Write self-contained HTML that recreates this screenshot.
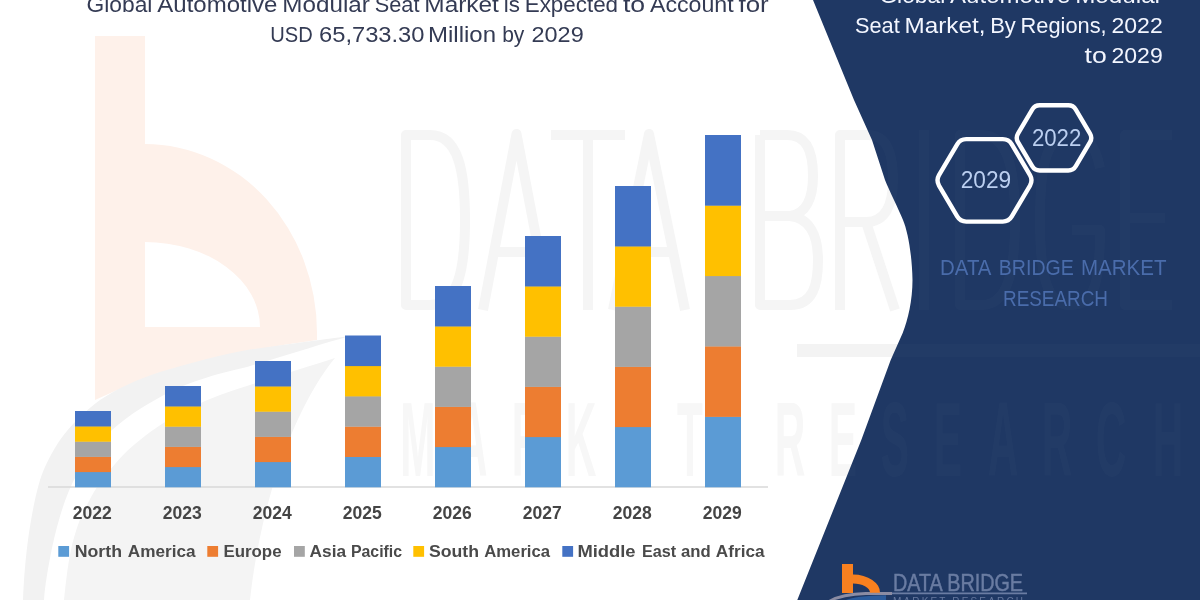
<!DOCTYPE html>
<html><head><meta charset="utf-8">
<style>
html,body{margin:0;padding:0;background:#fff;}
body{width:1200px;height:600px;overflow:hidden;position:relative;font-family:"Liberation Sans",sans-serif;}
svg{position:absolute;left:0;top:0;display:block}
text{font-family:"Liberation Sans",sans-serif;}
</style></head><body>
<svg width="1200" height="600" viewBox="0 0 1200 600">
<defs>
<clipPath id="pc"><path d="M813,0 L854,100 L872,140 L885,180 C889,190 899,210 903,220 C908,232 912,255 912.5,280 C912.5,300 908,320 902.7,333 L890.7,360 L861.3,440 L797.3,600 L1200,600 L1200,0 Z"/></clipPath>
<linearGradient id="barfade" x1="0" x2="1" y1="0" y2="0"><stop offset="0" stop-color="#000" stop-opacity="0"/><stop offset="0.12" stop-color="#000" stop-opacity="1"/></linearGradient>
<g id="wmtext">
<g fill="none" stroke-width="10" stroke-linejoin="round">
<path d="M406,135 L406,305 L430,305 C458,305 465,270 465,220 C465,170 458,135 430,135 Z"/>
<path d="M483,310 L516.5,134 L550,310 M494,252 L539,252"/>
<path d="M551,135 L625,135 M588,135 L588,310"/>
<path d="M613,310 L649,134 L685,310 M625,252 L673,252"/>
<path d="M760,135 L760,305 L790,305 C813,305 818,285 818,260 C818,235 809,218 790,216 L760,216 M790,216 C806,214 813,198 813,176 C813,150 806,135 787,135 L760,135"/>
<path d="M840,310 L840,135 L868,135 C888,135 893,155 893,180 C893,205 885,222 866,222 L840,222 M866,222 L895,310"/>
<path d="M924,130 L924,310"/>
<path d="M960,135 L960,305 L982,305 C1008,305 1015,270 1015,220 C1015,170 1008,135 982,135 Z"/>
<path d="M1100,168 C1095,142 1085,135 1070,135 C1045,135 1040,170 1040,220 C1040,270 1045,305 1070,305 C1092,305 1100,290 1100,230 L1072,230"/>
<path d="M1172,135 L1125,135 L1125,305 L1172,305 M1125,218 L1165,218"/>
</g></g><g id="wmmr"><g font-weight="bold" font-size="106" text-anchor="middle" stroke="none"><text transform="translate(418,476) scale(0.4,1)">M</text><text transform="translate(472,476) scale(0.4,1)">A</text><text transform="translate(527,476) scale(0.4,1)">R</text><text transform="translate(581,476) scale(0.4,1)">K</text><text transform="translate(636,476) scale(0.4,1)">E</text><text transform="translate(690,476) scale(0.4,1)">T</text><text transform="translate(790,476) scale(0.4,1)">R</text><text transform="translate(843,476) scale(0.4,1)">E</text><text transform="translate(895,476) scale(0.4,1)">S</text><text transform="translate(948,476) scale(0.4,1)">E</text><text transform="translate(1003,476) scale(0.4,1)">A</text><text transform="translate(1057,476) scale(0.4,1)">R</text><text transform="translate(1111,476) scale(0.4,1)">C</text><text transform="translate(1168,476) scale(0.4,1)">H</text></g></g>
</defs>
<rect width="1200" height="600" fill="#ffffff"/>

<!-- faint watermark: big logo mark on the left -->
<path fill="#fef1ea" fill-rule="evenodd" d="M95,36 L145,36 L145,144 A172,189 0 0 1 317,333 L317,340 C250,349 170,365 95,400 Z M145,242 A115,85 0 0 1 260,327 L145,327 Z"/>
<path d="M23,600 C24,575 26,555 28,540 C31,518 35,497 40,480 C45,465 52,452 60,440 C70,426 84,412 100,400 C118,388 138,379 160,372 C190,363 220,355 247,350 C290,344 325,339 350,336 C325,343 290,354 247,367 C215,374 190,382 170,392 C150,402 130,414 112,430 C98,443 86,458 76,476 C66,494 58,520 52,548 C48,568 45,585 44,600 Z" fill="#f2f2f2"/>
<path d="M64,600 C66,580 68,562 72,545 C76,530 80,517 87,505 C93,493 100,481 110,470 C119,459 128,449 140,440 C155,428 170,418 190,408 C210,398 230,391 250,385 C280,375 310,366 335,358 C300,400 262,490 250,600 Z" fill="#f4f4f4"/>
<g stroke="#f5f5f5" fill="#f5f5f5">
<use href="#wmtext"/>
</g>
<g fill="#f7f7f7"><use href="#wmmr"/></g>
<rect x="797" y="344" width="403" height="13" fill="#f3f3f3"/>

<!-- navy side panel -->
<path d="M813,0 L854,100 L872,140 L885,180 C889,190 899,210 903,220 C908,232 912,255 912.5,280 C912.5,300 908,320 902.7,333 L890.7,360 L861.3,440 L797.3,600 L1200,600 L1200,0 Z" fill="#1f3864"/>
<g clip-path="url(#pc)" stroke="#ffffff" fill="#ffffff" opacity="0.016">
<use href="#wmtext"/>
<use href="#wmmr" stroke="none"/>
<rect x="797" y="344" width="403" height="13" stroke="none"/>
</g>

<!-- chart -->
<line x1="48" y1="487" x2="768" y2="487" stroke="#d9d9d9" stroke-width="1.3"/>
<rect x="75" y="471.80" width="36" height="15.50" fill="#5b9bd5"/>
<rect x="75" y="456.60" width="36" height="15.50" fill="#ed7d31"/>
<rect x="75" y="441.40" width="36" height="15.50" fill="#a5a5a5"/>
<rect x="75" y="426.20" width="36" height="15.50" fill="#ffc000"/>
<rect x="75" y="411.00" width="36" height="15.50" fill="#4472c4"/>
<rect x="165" y="466.80" width="36" height="20.50" fill="#5b9bd5"/>
<rect x="165" y="446.60" width="36" height="20.50" fill="#ed7d31"/>
<rect x="165" y="426.40" width="36" height="20.50" fill="#a5a5a5"/>
<rect x="165" y="406.20" width="36" height="20.50" fill="#ffc000"/>
<rect x="165" y="386.00" width="36" height="20.50" fill="#4472c4"/>
<rect x="255" y="461.80" width="36" height="25.50" fill="#5b9bd5"/>
<rect x="255" y="436.60" width="36" height="25.50" fill="#ed7d31"/>
<rect x="255" y="411.40" width="36" height="25.50" fill="#a5a5a5"/>
<rect x="255" y="386.20" width="36" height="25.50" fill="#ffc000"/>
<rect x="255" y="361.00" width="36" height="25.50" fill="#4472c4"/>
<rect x="345" y="456.70" width="36" height="30.60" fill="#5b9bd5"/>
<rect x="345" y="426.40" width="36" height="30.60" fill="#ed7d31"/>
<rect x="345" y="396.10" width="36" height="30.60" fill="#a5a5a5"/>
<rect x="345" y="365.80" width="36" height="30.60" fill="#ffc000"/>
<rect x="345" y="335.50" width="36" height="30.60" fill="#4472c4"/>
<rect x="435" y="446.80" width="36" height="40.50" fill="#5b9bd5"/>
<rect x="435" y="406.60" width="36" height="40.50" fill="#ed7d31"/>
<rect x="435" y="366.40" width="36" height="40.50" fill="#a5a5a5"/>
<rect x="435" y="326.20" width="36" height="40.50" fill="#ffc000"/>
<rect x="435" y="286.00" width="36" height="40.50" fill="#4472c4"/>
<rect x="525" y="436.80" width="36" height="50.50" fill="#5b9bd5"/>
<rect x="525" y="386.60" width="36" height="50.50" fill="#ed7d31"/>
<rect x="525" y="336.40" width="36" height="50.50" fill="#a5a5a5"/>
<rect x="525" y="286.20" width="36" height="50.50" fill="#ffc000"/>
<rect x="525" y="236.00" width="36" height="50.50" fill="#4472c4"/>
<rect x="615" y="426.80" width="36" height="60.50" fill="#5b9bd5"/>
<rect x="615" y="366.60" width="36" height="60.50" fill="#ed7d31"/>
<rect x="615" y="306.40" width="36" height="60.50" fill="#a5a5a5"/>
<rect x="615" y="246.20" width="36" height="60.50" fill="#ffc000"/>
<rect x="615" y="186.00" width="36" height="60.50" fill="#4472c4"/>
<rect x="705" y="416.60" width="36" height="70.70" fill="#5b9bd5"/>
<rect x="705" y="346.20" width="36" height="70.70" fill="#ed7d31"/>
<rect x="705" y="275.80" width="36" height="70.70" fill="#a5a5a5"/>
<rect x="705" y="205.40" width="36" height="70.70" fill="#ffc000"/>
<rect x="705" y="135.00" width="36" height="70.70" fill="#4472c4"/>
<g font-weight="bold" font-size="17.5" fill="#454545">
<text x="72.8" y="518.6" textLength="39" lengthAdjust="spacingAndGlyphs">2022</text>
<text x="162.8" y="518.6" textLength="39" lengthAdjust="spacingAndGlyphs">2023</text>
<text x="252.8" y="518.6" textLength="39" lengthAdjust="spacingAndGlyphs">2024</text>
<text x="342.8" y="518.6" textLength="39" lengthAdjust="spacingAndGlyphs">2025</text>
<text x="432.8" y="518.6" textLength="39" lengthAdjust="spacingAndGlyphs">2026</text>
<text x="522.8" y="518.6" textLength="39" lengthAdjust="spacingAndGlyphs">2027</text>
<text x="612.8" y="518.6" textLength="39" lengthAdjust="spacingAndGlyphs">2028</text>
<text x="702.8" y="518.6" textLength="39" lengthAdjust="spacingAndGlyphs">2029</text>
</g>
<g font-weight="bold" font-size="16.8" fill="#4a4a4a">
<rect x="58.3" y="546" width="10.8" height="10.8" fill="#5b9bd5"/>
<rect x="207.3" y="546" width="10.8" height="10.8" fill="#ed7d31"/>
<rect x="294" y="546" width="10.8" height="10.8" fill="#a5a5a5"/>
<rect x="413.3" y="546" width="10.8" height="10.8" fill="#ffc000"/>
<rect x="562.3" y="546" width="10.8" height="10.8" fill="#4472c4"/>
<text x="74.7" y="557" textLength="47.3" lengthAdjust="spacingAndGlyphs">North</text>
<text x="127.8" y="557" textLength="67.8" lengthAdjust="spacingAndGlyphs">America</text>
<text x="223.4" y="557" textLength="58.2" lengthAdjust="spacingAndGlyphs">Europe</text>
<text x="309.6" y="557" textLength="36.5" lengthAdjust="spacingAndGlyphs">Asia</text>
<text x="350.9" y="557" textLength="51.2" lengthAdjust="spacingAndGlyphs">Pacific</text>
<text x="428.9" y="557" textLength="50.1" lengthAdjust="spacingAndGlyphs">South</text>
<text x="484.2" y="557" textLength="65.9" lengthAdjust="spacingAndGlyphs">America</text>
<text x="577.4" y="557" textLength="58.2" lengthAdjust="spacingAndGlyphs">Middle</text>
<text x="641.9" y="557" textLength="34.2" lengthAdjust="spacingAndGlyphs">East</text>
<text x="680.9" y="557" textLength="29.7" lengthAdjust="spacingAndGlyphs">and</text>
<text x="715.8" y="557" textLength="48.8" lengthAdjust="spacingAndGlyphs">Africa</text>
</g>

<!-- titles -->
<g font-size="22" fill="#343b54">
<text x="86.5" y="11.7" textLength="65.9" lengthAdjust="spacingAndGlyphs">Global</text>
<text x="157.3" y="11.7" textLength="120.2" lengthAdjust="spacingAndGlyphs">Automotive</text>
<text x="282.3" y="11.7" textLength="87.5" lengthAdjust="spacingAndGlyphs">Modular</text>
<text x="374.7" y="11.7" textLength="44.8" lengthAdjust="spacingAndGlyphs">Seat</text>
<text x="424.3" y="11.7" textLength="74.6" lengthAdjust="spacingAndGlyphs">Market</text>
<text x="503.7" y="11.7" textLength="16.2" lengthAdjust="spacingAndGlyphs">is</text>
<text x="524.7" y="11.7" textLength="93.4" lengthAdjust="spacingAndGlyphs">Expected</text>
<text x="622.9" y="11.7" textLength="22.2" lengthAdjust="spacingAndGlyphs">to</text>
<text x="650.0" y="11.7" textLength="83.7" lengthAdjust="spacingAndGlyphs">Account</text>
<text x="738.5" y="11.7" textLength="30.2" lengthAdjust="spacingAndGlyphs">for</text>
<text x="270.2" y="41.5" textLength="42.5" lengthAdjust="spacingAndGlyphs">USD</text>
<text x="319.0" y="41.5" textLength="105.5" lengthAdjust="spacingAndGlyphs">65,733.30</text>
<text x="428.0" y="41.5" textLength="68.0" lengthAdjust="spacingAndGlyphs">Million</text>
<text x="502.2" y="41.5" textLength="22.2" lengthAdjust="spacingAndGlyphs">by</text>
<text x="531.5" y="41.5" textLength="52.2" lengthAdjust="spacingAndGlyphs">2029</text>
</g>
<g font-size="22.3" fill="#f3f6ff">
<text x="879.4" y="2.7" textLength="65.9" lengthAdjust="spacingAndGlyphs">Global</text>
<text x="950.1" y="2.7" textLength="120.2" lengthAdjust="spacingAndGlyphs">Automotive</text>
<text x="1075.2" y="2.7" textLength="87.5" lengthAdjust="spacingAndGlyphs">Modular</text>
<text x="854.9" y="32.7" textLength="44.8" lengthAdjust="spacingAndGlyphs">Seat</text>
<text x="904.6" y="32.7" textLength="80.8" lengthAdjust="spacingAndGlyphs">Market,</text>
<text x="990.2" y="32.7" textLength="25.6" lengthAdjust="spacingAndGlyphs">By</text>
<text x="1020.6" y="32.7" textLength="86.1" lengthAdjust="spacingAndGlyphs">Regions,</text>
<text x="1111.5" y="32.7" textLength="51.2" lengthAdjust="spacingAndGlyphs">2022</text>
<text x="1084.5" y="63.2" textLength="22.2" lengthAdjust="spacingAndGlyphs">to</text>
<text x="1111.5" y="63.2" textLength="51.2" lengthAdjust="spacingAndGlyphs">2029</text>
</g>

<!-- hexagons -->
<g fill="none" stroke="#ffffff" stroke-width="4.4" stroke-linejoin="round">
<path d="M938.99,185.57 Q935.95,180.40 938.99,175.23 L957.18,144.32 Q960.23,139.15 966.23,139.15 L1002.77,139.15 Q1008.77,139.15 1011.82,144.32 L1030.01,175.23 Q1033.05,180.40 1030.01,185.57 L1011.82,216.48 Q1008.77,221.65 1002.77,221.65 L966.23,221.65 Q960.23,221.65 957.18,216.48 Z"/>
<path d="M1017.99,142.21 Q1015.45,137.90 1017.99,133.59 L1032.18,109.56 Q1034.72,105.25 1039.72,105.25 L1068.28,105.25 Q1073.28,105.25 1075.82,109.56 L1090.01,133.59 Q1092.55,137.90 1090.01,142.21 L1075.82,166.24 Q1073.28,170.55 1068.28,170.55 L1039.72,170.55 Q1034.72,170.55 1032.18,166.24 Z"/>
</g>
<g font-size="23" fill="#bbcff0">
<text x="960.7" y="188.2" textLength="50.4" lengthAdjust="spacingAndGlyphs">2029</text>
<text x="1031.9" y="145.8" textLength="49.4" lengthAdjust="spacingAndGlyphs">2022</text>
</g>
<g font-size="22" fill="#4a6cab">
<text x="940.0" y="275.3" textLength="51.5" lengthAdjust="spacingAndGlyphs">DATA</text>
<text x="998.8" y="275.3" textLength="75.0" lengthAdjust="spacingAndGlyphs">BRIDGE</text>
<text x="1081.0" y="275.3" textLength="85.5" lengthAdjust="spacingAndGlyphs">MARKET</text>
<text x="1003.0" y="306.3" textLength="105.0" lengthAdjust="spacingAndGlyphs">RESEARCH</text>
</g>

<!-- bottom logo -->
<g>
<path d="M843,601 C852,597.2 866,595.6 886,595.3 L886,601 Z" fill="#2c5c9c"/>
<path d="M829,601.5 C838,596.5 850,593.9 866,593.6 L892,593.5" fill="none" stroke="#8b8ca3" stroke-width="3"/>
<path d="M892,593.4 L1027,593.4" fill="none" stroke="#6b7da3" stroke-width="1.6"/>
<rect x="842" y="564" width="11" height="29" fill="#f8801f"/>
<path d="M853,574.5 A27,18 0 0 1 880,592.8 L870,592.8 A17,9.3 0 0 0 853,583.5 Z" fill="#f8801f"/>
<text x="893" y="590.8" font-size="23.7" fill="#6a7ca2" stroke="#6a7ca2" stroke-width="0.5" textLength="130" lengthAdjust="spacingAndGlyphs">DATA BRIDGE</text>
<text x="893" y="604.5" font-size="10" fill="#66789f" textLength="130" lengthAdjust="spacing">MARKET RESEARCH</text>
</g>
</svg>
</body></html>
